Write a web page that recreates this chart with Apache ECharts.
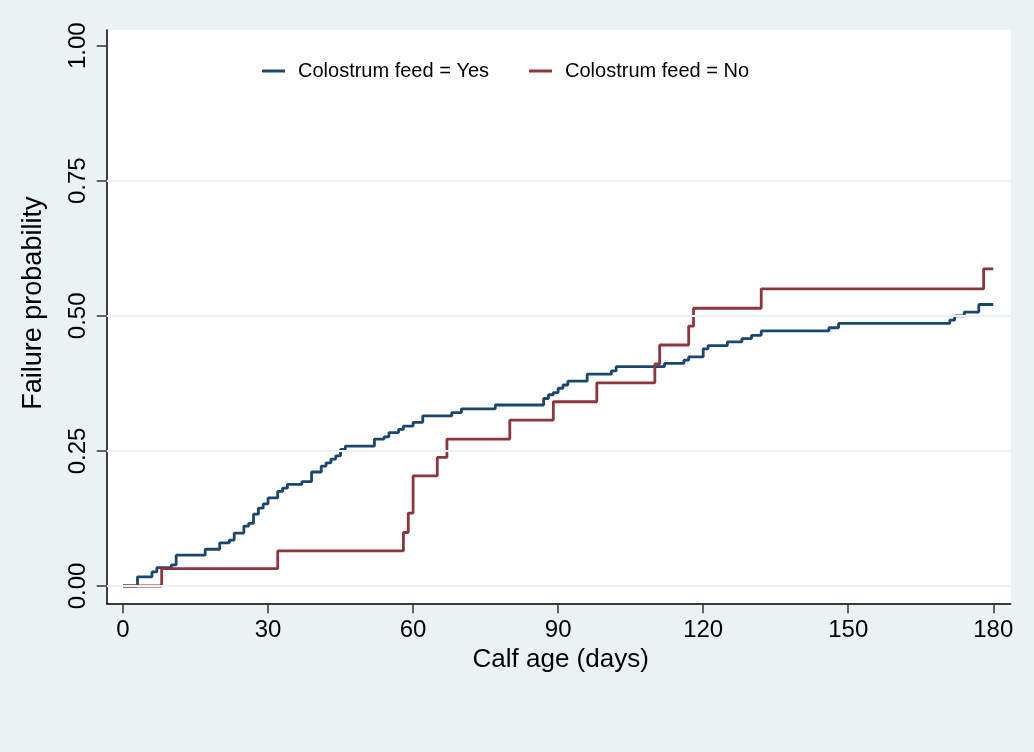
<!DOCTYPE html>
<html>
<head>
<meta charset="utf-8">
<script src="https://cdn.jsdelivr.net/npm/echarts@6/dist/echarts.min.js"></script>
<style>html,body{margin:0;padding:0;background:#EAF2F3;}#c{width:1034px;height:752px;}</style>
</head>
<body>
<div id="c"></div>
<script>
// Kaplan-Meier failure curves: [day, failure probability from that day on]
const yesDays = [0,3,6,7,10,11,17,20,22,23,25,26,27,28,29,30,32,33,34,37,39,41,42,43,44,45,46,52,54,55,57,58,60,62,68,70,77,87,88,89,90,91,92,96,101,102,112,116,117,120,121,125,128,130,132,146,148,171,172,174,177,180];
const yesProb = [0,0.017,0.026,0.034,0.039,0.057,0.068,0.080,0.085,0.098,0.111,0.116,0.133,0.144,0.152,0.163,0.175,0.181,0.188,0.193,0.211,0.222,0.228,0.235,0.241,0.253,0.259,0.272,0.276,0.284,0.290,0.296,0.303,0.315,0.321,0.328,0.335,0.347,0.354,0.358,0.366,0.372,0.379,0.392,0.398,0.406,0.412,0.418,0.424,0.439,0.445,0.452,0.458,0.464,0.472,0.478,0.486,0.492,0.500,0.507,0.521,0.521];
const noDays = [0,8,32,58,59,60,65,67,80,89,98,110,111,117,118,132,178,180];
const noProb = [0,0.032,0.065,0.099,0.135,0.204,0.238,0.272,0.307,0.341,0.376,0.411,0.446,0.481,0.514,0.550,0.587,0.587];
const xTicks = [0,30,60,90,120,150,180];
const yTicks = [0,0.25,0.5,0.75,1];
const gridLineValues = [0,0.25,0.5,0.75];
const seriesNames = ['Colostrum feed = Yes','Colostrum feed = No'];
const xTitle = 'Calf age (days)';
const yTitle = 'Failure probability';

const pair = (xs, ys) => xs.map((x, i) => [x, ys[i]]);
const FONT = 'Liberation Sans, Arial, sans-serif';
const BLUE = '#1a476f', RED = '#90353b';

const chart = echarts.init(document.getElementById('c'), null, {renderer: 'canvas'});
chart.setOption({
  backgroundColor: '#EAF2F3',
  animation: false,
  textStyle: {fontFamily: FONT, color: '#000'},
  grid: {left: 106.7, right: 23.3, top: 30, bottom: 148.7, show: true,
         backgroundColor: '#ffffff', borderWidth: 0, containLabel: false},
  legend: {
    left: 262, top: 61, padding: 0,
    icon: 'rect', itemWidth: 23, itemHeight: 3, itemGap: 40,
    textStyle: {fontSize: 20, fontFamily: FONT, color: '#000', padding: [0,0,0,8]},
    data: seriesNames
  },
  xAxis: {
    type: 'value', min: -3.37, max: 183.6,
    axisLine: {show: true, onZero: false, lineStyle: {color: '#000', width: 1.5}},
    axisTick: {show: true, length: 10, customValues: xTicks, lineStyle: {color: '#333', width: 1.5}},
    axisLabel: {fontSize: 24, color: '#000', margin: 15, fontFamily: FONT, customValues: xTicks,
                showMinLabel: true, showMaxLabel: true},
    splitLine: {show: false},
    name: xTitle, nameLocation: 'middle', nameGap: 43,
    nameTextStyle: {fontSize: 26, color: '#000', fontFamily: FONT, padding: [0,0,0,4]}
  },
  yAxis: {
    type: 'value', min: -0.032, max: 1.029,
    axisLine: {show: true, onZero: false, lineStyle: {color: '#000', width: 1.5}},
    axisTick: {show: true, length: 10, customValues: yTicks, lineStyle: {color: '#333', width: 1.5}},
    axisLabel: {fontSize: 24, color: '#000', margin: 16, rotate: 90, fontFamily: FONT,
                customValues: yTicks, formatter: v => Number(v).toFixed(2)},
    splitLine: {show: false},
    name: yTitle, nameLocation: 'middle', nameGap: 60, nameRotate: 90,
    nameTextStyle: {fontSize: 27, color: '#000', fontFamily: FONT, padding: [0,0,0,27]}
  },
  series: [
    {type: 'line', data: [], silent: true, z: 1,
     markLine: {silent: true, symbol: 'none', label: {show: false}, animation: false,
                lineStyle: {color: '#EAF2F3', width: 2, type: 'solid'},
                data: gridLineValues.map(v => ({yAxis: v}))}},
    {name: seriesNames[0], type: 'line', step: 'end',
     data: pair(yesDays, yesProb), showSymbol: false, symbol: 'none', z: 3,
     color: BLUE, itemStyle: {color: BLUE}, lineStyle: {color: BLUE, width: 2.8}},
    {name: seriesNames[1], type: 'line', step: 'end',
     data: pair(noDays, noProb), showSymbol: false, symbol: 'none', z: 4,
     color: RED, itemStyle: {color: RED}, lineStyle: {color: RED, width: 2.8}}
  ]
});
</script>
</body>
</html>
